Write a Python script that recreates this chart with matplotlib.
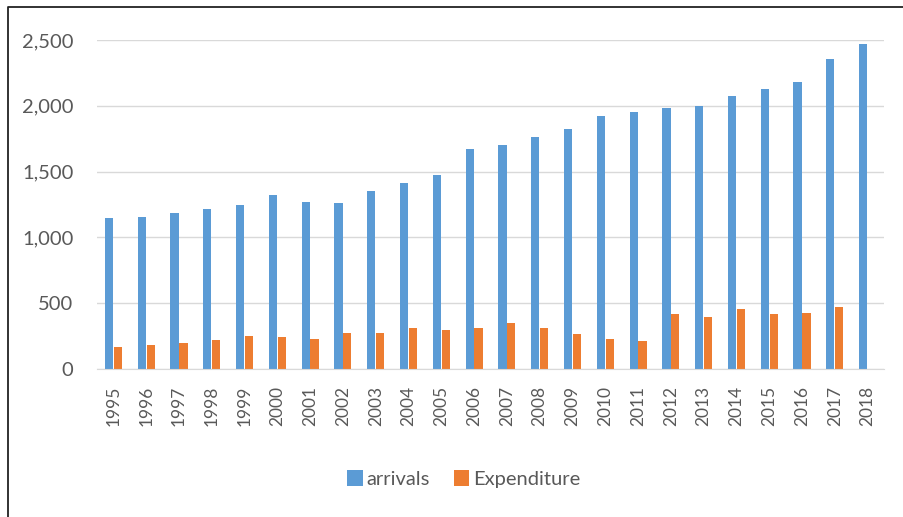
import matplotlib.pyplot as plt
from matplotlib.lines import Line2D
import numpy as np

years = [str(y) for y in range(1995, 2019)]
arrivals = [1145, 1158, 1188, 1218, 1249, 1322, 1271, 1262, 1355, 1416, 1477, 1672,
            1705, 1766, 1826, 1920, 1951, 1981, 2001, 2072, 2126, 2179, 2354, 2468]
expenditure = [170, 180, 200, 220, 251, 241, 230, 271, 271, 312, 294, 312,
               347, 312, 264, 230, 210, 416, 395, 456, 416, 426, 469, 0]

plt.rcParams['font.family'] = ['Lato', 'DejaVu Sans']
txt = '#595959'

fig = plt.figure(figsize=(9.04, 5.17), dpi=100)
ax = fig.add_axes([97 / 904, 1 - 369 / 517, (884 - 97) / 904, (369 - 40) / 517])

x = np.arange(len(years))
w = 0.25
ax.bar(x - w / 2 - 0.01, arrivals, w, color='#5b9bd5', label='arrivals')
ax.bar(x + w / 2 + 0.01, expenditure, w, color='#ed7d31', label='Expenditure')

ax.set_xlim(-0.5, len(years) - 0.5)
ax.set_ylim(0, 2500)
ax.set_yticks(range(0, 2501, 500))
ax.set_yticklabels(['{:,}'.format(v) for v in range(0, 2501, 500)])
ax.set_xticks(x)
ax.set_xticklabels(years, rotation=90)
ax.grid(axis='y', color='#d9d9d9', linewidth=1)
ax.set_axisbelow(True)
for s in ['top', 'right', 'left']:
    ax.spines[s].set_visible(False)
ax.spines['bottom'].set_color('#d9d9d9')
ax.tick_params(length=0, labelcolor=txt)
ax.tick_params(axis='y', labelsize=14.5, pad=17)
ax.tick_params(axis='x', labelsize=12.5, pad=12)

fig.legend(loc='center', bbox_to_anchor=(464 / 904, 1 - 479 / 517), ncol=2,
           frameon=False, fontsize=14.5, labelcolor=txt, handlelength=0.75,
           handleheight=0.85, handletextpad=0.2, columnspacing=1.2)

# frame: only top and left edges show
fig.add_artist(Line2D([8 / 904, 8 / 904, 1], [0, 1 - 7 / 517, 1 - 7 / 517],
                      transform=fig.transFigure, color='#222222', linewidth=1.3))

fig.savefig('out.png', dpi=100)
